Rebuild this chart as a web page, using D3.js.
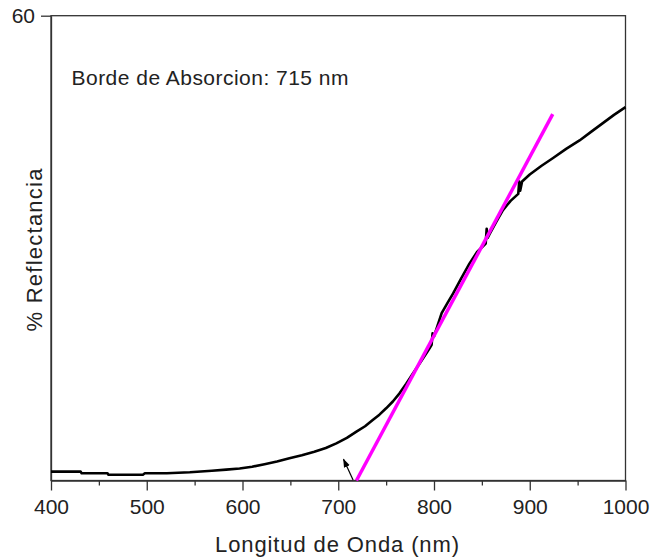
<!DOCTYPE html>
<html lang="es">
<head>
    <meta charset="UTF-8">
    <title>Reflectancia</title>
    <script src="https://d3js.org/d3.v7.min.js"></script>
    <style>
        body {
            margin: 0;
            background: #fff;
            font-family: "Liberation Sans", Arial, sans-serif;
        }

        .axis path, .axis line {
            stroke: #333;
            stroke-width: 1.3px;
        }

        .axis text {
            font-size: 21px;
            fill: #222;
        }

        .frame {
            fill: none;
            stroke: #333;
            stroke-width: 1.3px;
        }

        .curve {
            fill: none;
            stroke: #000;
            stroke-width: 2.6px;
            stroke-linejoin: round;
        }

        .tangent {
            fill: none;
            stroke: #ff00ff;
            stroke-width: 3.5px;
        }

        .label {
            font-size: 21px;
            fill: #222;
        }

        .title {
            font-size: 22px;
            fill: #222;
        }
    </style>
</head>
<body>
    <div id="chart"></div>
    <script>
        // Espectro de reflectancia (nm, %)
        const wavelength = [400, 431, 432, 459, 460, 496, 498, 521, 545, 568, 583, 597, 610, 623, 636, 649, 662, 675, 687, 698,
            709, 719, 728, 736, 743, 750, 757, 764, 771, 778, 785, 792, 796, 797.5, 798.5, 800, 808, 814, 820, 828, 837, 845,
            854, 855, 856, 858, 865, 872, 880, 888, 889, 890, 892, 900, 912, 924, 938, 952, 964, 976, 988, 1000];
        const reflectance = [1.14, 1.14, 0.93, 0.93, 0.75, 0.75, 0.93, 0.93, 1.06, 1.26, 1.4, 1.55, 1.78, 2.1, 2.45, 2.86, 3.25, 3.72, 4.2, 4.80,
            5.5, 6.30, 7.0, 7.81, 8.5, 9.32, 10.2, 11.25, 12.5, 13.83, 15.1, 16.41, 17.2, 17.5, 19.0, 18.6, 21.6, 22.9, 24.15, 26.0, 28.0, 29.5,
            30.6, 32.5, 31.3, 31.8, 33.4, 34.9, 36.1, 37.0, 38.6, 37.4, 38.6, 39.5, 40.6, 41.6, 42.8, 43.9, 45.0, 46.1, 47.2, 48.2];

        // recta tangente (extrapolacion del borde)
        const tangentX = [719, 924];
        const tangentY = [0, 47.3];

        // flecha al borde de absorcion
        const arrowX = [715.5, 705.5];
        const arrowY = [0.05, 2.75];

        const xMajorTicks = [400, 500, 600, 700, 800, 900, 1000];
        const xMinorTicks = [450, 550, 650, 750, 850, 950];
        const yTicks = [60];

        const margin = { top: 15.7, right: 25.5, bottom: 79.5, left: 51 },
              width = 651 - margin.left - margin.right,
              height = 560 - margin.top - margin.bottom;

        const svg = d3.select("#chart")
            .append("svg")
            .attr("width", 651)
            .attr("height", 560);

        const g = svg.append("g")
            .attr("transform", `translate(${margin.left},${margin.top})`);

        const x = d3.scaleLinear().domain([400, 1000]).range([0, width]);
        const y = d3.scaleLinear().domain([0, 60]).range([height, 0]);

        // arrowhead
        svg.append("defs").append("marker")
            .attr("id", "head")
            .attr("viewBox", "0 0 10 10")
            .attr("refX", 9)
            .attr("refY", 5)
            .attr("markerWidth", 9)
            .attr("markerHeight", 9)
            .attr("markerUnits", "userSpaceOnUse")
            .attr("orient", "auto")
            .append("path")
            .attr("d", "M0,1.5 L10,5 L0,8.5 Z")
            .attr("fill", "#000");

        // frame
        g.append("rect")
            .attr("class", "frame")
            .attr("width", width)
            .attr("height", height);

        // x axis
        g.append("g")
            .attr("class", "axis")
            .attr("transform", `translate(0,${height})`)
            .call(d3.axisBottom(x).tickValues(xMajorTicks).tickFormat(d3.format("d"))
                .tickSizeInner(10).tickSizeOuter(0).tickPadding(8.5));

        g.append("g")
            .attr("class", "axis")
            .attr("transform", `translate(0,${height})`)
            .call(d3.axisBottom(x).tickValues(xMinorTicks).tickSizeInner(5).tickSizeOuter(0).tickFormat(""))
            .select(".domain").remove();

        // y axis
        g.append("g")
            .attr("class", "axis")
            .call(d3.axisLeft(y).tickValues(yTicks).tickSizeInner(10).tickSizeOuter(0).tickPadding(6));

        const line = d3.line()
            .x((d, i) => x(wavelength[i]))
            .y(d => y(d));

        g.append("path")
            .datum(reflectance)
            .attr("class", "curve")
            .attr("d", line);

        g.append("path")
            .datum(tangentY)
            .attr("class", "tangent")
            .attr("d", d3.line().x((d, i) => x(tangentX[i])).y(d => y(d)));

        g.append("line")
            .attr("x1", x(arrowX[0])).attr("y1", y(arrowY[0]))
            .attr("x2", x(arrowX[1])).attr("y2", y(arrowY[1]))
            .attr("stroke", "#000")
            .attr("stroke-width", 1.2)
            .attr("marker-end", "url(#head)");

        // annotation
        g.append("text")
            .attr("class", "label")
            .attr("x", 20.5)
            .attr("y", 69.3)
            .attr("textLength", 277)
            .attr("lengthAdjust", "spacing")
            .text("Borde de Absorcion: 715 nm");

        // axis titles
        svg.append("text")
            .attr("class", "title")
            .attr("x", 337)
            .attr("y", 552)
            .attr("text-anchor", "middle")
            .attr("textLength", 244)
            .attr("lengthAdjust", "spacing")
            .text("Longitud de Onda (nm)");

        svg.append("text")
            .attr("class", "title")
            .attr("transform", "translate(41.5,250) rotate(-90)")
            .attr("text-anchor", "middle")
            .attr("textLength", 163)
            .attr("lengthAdjust", "spacing")
            .text("% Reflectancia");
    </script>
</body>
</html>
